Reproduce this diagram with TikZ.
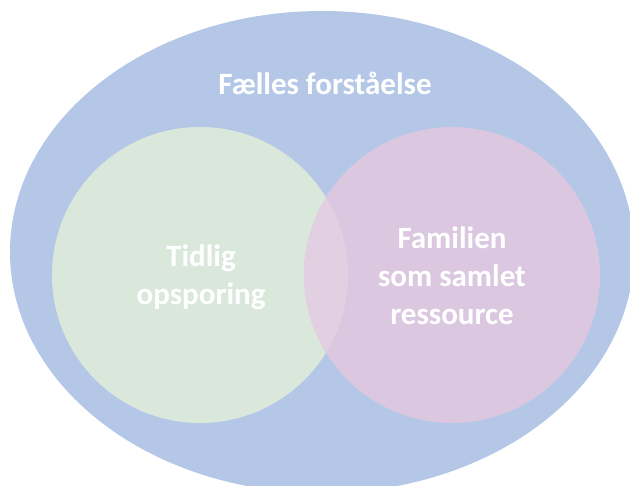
\documentclass[tikz,border=0pt]{standalone}
\usepackage{fontspec}
\setmainfont{Carlito}
\usetikzlibrary{shapes.geometric}
\definecolor{outerblue}{RGB}{180,199,231}
\definecolor{softgreen}{RGB}{218,232,220}
\definecolor{softpink}{RGB}{219,200,224}
\definecolor{overlappink}{RGB}{226,207,226}
\tikzset{
  label text/.style={text=white, font=\fontsize{31}{38}\selectfont\bfseries, align=center, inner sep=0pt},
  venn/.style={circle, minimum size=296pt, inner sep=0pt}
}
\begin{document}
\begin{tikzpicture}[x=1pt,y=-1pt]
\useasboundingbox (0,0) rectangle (630,486);
\begin{scope}
\clip (0,0) rectangle (630,486);
\node[ellipse, fill=outerblue, minimum width=624pt, minimum height=482pt, inner sep=0pt] (outer) at (322,252) {};
\end{scope}
\node[venn, fill=softgreen] (left) at (200,275) {};
\node[venn, fill=softpink] (right) at (452,275) {};
\begin{scope}
  \clip (200,275) circle (148);
  \fill[overlappink] (452,275) circle (148);
\end{scope}
\node[label text] (outerlabel) at (325,83) {Fælles forståelse};
\node[label text] (leftlabel) at (201,277) {Tidlig\\opsporing};
\node[label text] (rightlabel) at (452,276) {Familien\\som samlet\\ressource};
\end{tikzpicture}
\end{document}
